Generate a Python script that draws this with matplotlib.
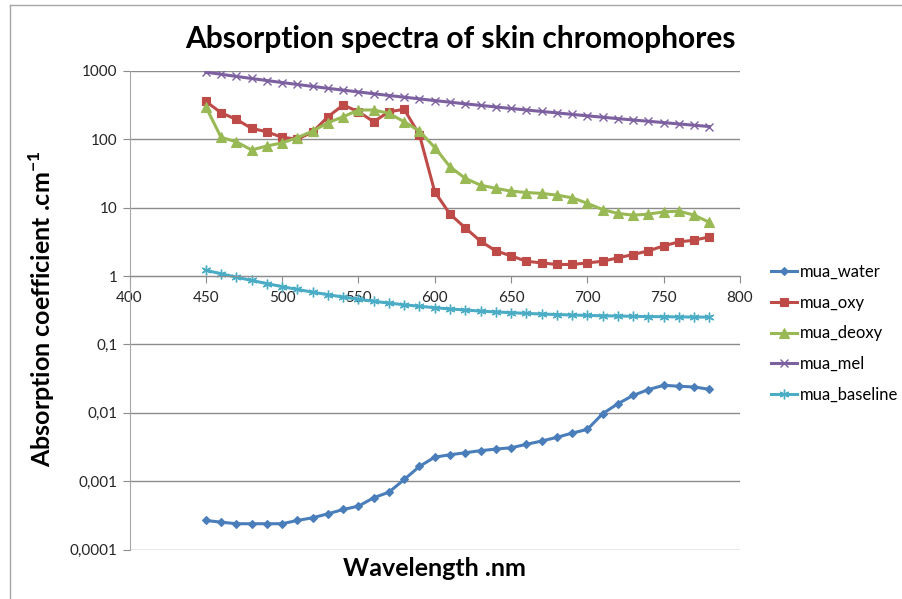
import matplotlib.pyplot as plt
from matplotlib.lines import Line2D
from matplotlib.ticker import FixedLocator, FuncFormatter, NullLocator

# values
wavelength = list(range(450, 790, 10))

mua_water = [2.67e-4, 2.52e-4, 2.39e-4, 2.39e-4, 2.39e-4, 2.39e-4, 2.67e-4, 2.92e-4, 3.34e-4, 3.86e-4,
             4.32e-4, 5.73e-4, 6.92e-4, 1.06e-3, 1.65e-3, 2.25e-3, 2.44e-3, 2.61e-3, 2.80e-3, 2.95e-3,
             3.09e-3, 3.46e-3, 3.87e-3, 4.38e-3, 5.06e-3, 5.73e-3, 9.72e-3, 1.36e-2, 1.80e-2, 2.19e-2,
             2.53e-2, 2.45e-2, 2.39e-2, 2.21e-2]
mua_oxy = [360, 245, 196, 145, 129, 107, 101, 128, 214, 318,
           254, 181, 254, 275, 116, 17.1, 8.06, 5.08, 3.24, 2.34,
           1.98, 1.65, 1.56, 1.48, 1.48, 1.56, 1.65, 1.85, 2.07, 2.34,
           2.77, 3.17, 3.35, 3.75]
mua_deoxy = [300, 107, 92, 70, 80, 89, 106, 132, 175, 214,
             269, 269, 240, 181, 132, 76, 39.7, 26.9, 21.4, 19.2,
             17.5, 16.7, 16.2, 15.3, 14.0, 11.6, 9.4, 8.25, 7.8, 8.06,
             8.7, 8.9, 7.8, 6.1]
mua_mel = [963, 895, 833, 777, 725, 678, 635, 595, 558, 525,
           494, 465, 438, 414, 391, 369, 350, 331, 314, 298,
           283, 269, 256, 244, 232, 221, 211, 201, 192, 184,
           176, 168, 161, 154]
mua_baseline = [1.219, 1.082, 0.965, 0.864, 0.777, 0.702, 0.638, 0.583, 0.535, 0.494,
                0.459, 0.429, 0.403, 0.381, 0.362, 0.345, 0.331, 0.319, 0.308, 0.299,
                0.292, 0.285, 0.279, 0.274, 0.270, 0.266, 0.263, 0.261, 0.258, 0.256,
                0.255, 0.253, 0.252, 0.251]

y_ticks = [1e-4, 1e-3, 1e-2, 1e-1, 1, 10, 100, 1000]
x_ticks = [400, 450, 500, 550, 600, 650, 700, 750, 800]

plt.rcParams["font.family"] = ["Lato", "DejaVu Sans"]

W, H = 903, 599
fig = plt.figure(figsize=(W / 100, H / 100), dpi=100)
ax = fig.add_axes([129.5 / W, 1 - 549.6 / H, (740 - 129.5) / W, (549.6 - 71) / H])

series = [
    ("mua_water", mua_water, "#4A7EBB", "D", 4.5),
    ("mua_oxy", mua_oxy, "#BE4B48", "s", 6),
    ("mua_deoxy", mua_deoxy, "#98B954", "^", 6.5),
    ("mua_mel", mua_mel, "#7D60A0", "x", 6),
    ("mua_baseline", mua_baseline, "#4BACC6", (6, 2, 0), 7),
]
for name, vals, col, mk, ms in series:
    ax.plot(wavelength, vals, color=col, lw=2.2, marker=mk, ms=ms, mec=col, mfc=col,
            mew=1.0 if mk in ("x", (6, 2, 0)) else 0.8, label=name)

ax.set_yscale("log")
ax.set_ylim(1e-4, 1000)
ax.set_xlim(400, 800)
ax.yaxis.set_major_locator(FixedLocator(y_ticks))
ax.yaxis.set_minor_locator(NullLocator())
ax.yaxis.set_major_formatter(FuncFormatter(lambda v, p: f"{v:g}".replace(".", ",") if v < 1 else f"{int(v)}"))
ax.xaxis.set_major_locator(FixedLocator(x_ticks))

for v in y_ticks:
    ax.axhline(v, color="#8C8C8C", lw=1.0, zorder=0)

ax.spines["top"].set_visible(False)
ax.spines["right"].set_visible(False)
ax.spines["bottom"].set_position(("data", 1))
ax.spines["bottom"].set_color("#8C8C8C")
ax.spines["left"].set_color("#A6A6A6")
ax.tick_params(axis="both", direction="out", length=5, color="#8C8C8C", labelsize=11, labelcolor="#262626")
ax.tick_params(axis="x", pad=6)

fig.text(460 / W, 1 - 39 / H, "Absorption spectra of skin chromophores", fontsize=21.5, fontweight="bold",
         ha="center", va="center")
fig.text(434.5 / W, 1 - 569 / H, "Wavelength .nm", fontsize=18, fontweight="bold", ha="center", va="center")
fig.text(42 / W, 1 - 309 / H, "Absorption coefficient .cm$^{\\mathregular{-1}}$", fontsize=18, fontweight="bold",
         rotation=90, ha="center", va="center")

ax.legend(loc="upper left", bbox_to_anchor=(756 / W, 1 - 249 / H), bbox_transform=fig.transFigure,
          frameon=False, fontsize=12, handlelength=1.55, handletextpad=0.2, labelspacing=0.88)

# chart area border (top and left visible in the reference)
fig.add_artist(Line2D([10 / W, 10 / W], [0, 1 - 5 / H], color="#A6A6A6", lw=1))
fig.add_artist(Line2D([10 / W, 1], [1 - 5 / H, 1 - 5 / H], color="#A6A6A6", lw=1))

fig.savefig("out.png", dpi=100)
